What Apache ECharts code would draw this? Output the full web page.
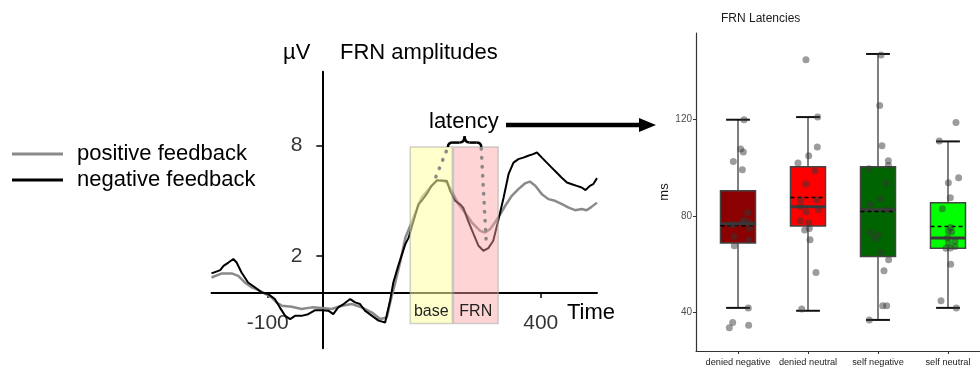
<!DOCTYPE html>
<html>
<head>
<meta charset="utf-8">
<script src="https://cdn.jsdelivr.net/npm/echarts@6/dist/echarts.min.js"></script>
<style>
  html, body { margin: 0; padding: 0; background: #fff; }
  #chart { width: 980px; height: 367px; }
</style>
</head>
<body>
<div id="chart"></div>
<script>
// ---------- FRN amplitudes: [time ms, amplitude µV] ----------
var positiveFeedback = [
  [-203, 0.84], [-184, 1.06], [-166, 1.06], [-154, 0.93], [-142, 0.57], [-129, 0.30],
  [-117, 0.16], [-105, -0.03], [-93, -0.24], [-84, -0.51], [-74, -0.69], [-56, -0.75],
  [-38, -0.87], [-19, -0.78], [-1, -0.82], [17, -0.87], [36, -0.69], [54, -0.60],
  [72, -0.78], [91, -1.06], [106, -1.41], [118, -1.33], [126, -0.30], [133, 0.50],
  [142, 1.60], [152, 3.00], [167, 4.10], [182, 5.18], [200, 5.81], [210, 6.08],
  [219, 6.12], [228, 5.99], [237, 5.54], [249, 4.82], [261, 4.36], [274, 3.82],
  [289, 3.37], [298, 3.28], [307, 3.46], [316, 3.82], [326, 4.28], [335, 4.73],
  [347, 5.27], [359, 5.63], [371, 5.94], [380, 6.04], [390, 5.81], [402, 5.36],
  [414, 5.09], [426, 5.00], [439, 4.82], [451, 4.63], [463, 4.49], [475, 4.55],
  [484, 4.49], [493, 4.67], [503, 4.90]
];
var negativeFeedback = [
  [-203, 1.06], [-193, 1.17], [-187, 1.24], [-181, 1.47], [-172, 1.65], [-163, 1.84],
  [-157, 1.65], [-148, 1.11], [-136, 0.57], [-123, 0.30], [-111, 0.03], [-99, -0.06],
  [-87, -0.33], [-78, -0.78], [-68, -1.24], [-59, -1.42], [-50, -1.24], [-38, -1.24],
  [-26, -1.15], [-13, -0.93], [-1, -0.93], [11, -0.96], [20, -1.15], [29, -0.78],
  [39, -0.60], [51, -0.33], [60, -0.51], [69, -0.60], [78, -0.96], [91, -1.24],
  [103, -1.50], [115, -1.60], [124, -0.42], [130, 0.57], [139, 1.47], [146, 2.11],
  [152, 2.65], [158, 3.00], [167, 3.90], [176, 4.82], [182, 5.00], [191, 5.36],
  [200, 5.81], [210, 6.12], [219, 6.08], [228, 6.08], [234, 5.54], [243, 5.00],
  [252, 4.82], [258, 4.63], [267, 3.91], [277, 3.19], [286, 2.56], [295, 2.29],
  [304, 2.43], [313, 2.83], [322, 3.91], [332, 5.18], [341, 6.44], [350, 7.07],
  [359, 7.26], [368, 7.34], [377, 7.44], [386, 7.53], [393, 7.62], [402, 7.34],
  [411, 7.07], [420, 6.80], [429, 6.53], [438, 6.26], [448, 5.99], [457, 5.90],
  [466, 5.81], [475, 5.72], [482, 5.58], [490, 5.81], [496, 5.90], [503, 6.23]
];
var ampTicks = [2, 8];
var timeTicks = [-100, 400];
// time windows: [start ms, end ms, bottom µV, top µV]
var windowNames = ['base', 'FRN'];
var windowSpans = [[161, 238, -1.65, 7.92], [240, 322, -1.65, 7.92]];
// dotted peak markers
var peakGuide1 = [[208, 6.3], [230, 7.9]];
var peakGuide2 = [[291, 7.83], [300, 2.83]];
// brace over the latency: [from ms, to ms, base µV, tip µV]
var latencyBrace = [[230, 291, 7.92, 8.5]];

// ---------- FRN latencies ----------
var groups = ['denied negative', 'denied neutral', 'self negative', 'self neutral'];
var boxLow  = [41.9, 40.7, 36.9, 41.9];
var boxQ1   = [68.8, 75.9, 63.2, 66.7];
var boxMed  = [76.8, 83.9, 82.6, 70.9];
var boxQ3   = [90.5, 100.5, 100.5, 85.5];
var boxHigh = [120.0, 121.1, 147.3, 111.0];
var boxMean = [76.0, 87.7, 81.9, 75.7];
var msTicks = [40, 80, 120];

var latencies = [
  [120.0, 107.8, 106.6, 102.7, 99.2, 81.5, 78.4, 77.5, 76.5, 76.5, 77.4, 75.0, 71.5, 70.2, 67.7, 41.9, 35.8, 33.7, 34.7],
  [144.9, 121.1, 108.7, 105.0, 102.0, 98.8, 93.3, 86.8, 86.7, 84.0, 81.7, 82.7, 78.1, 77.2, 74.2, 74.9, 70.2, 56.6, 41.4],
  [146.9, 125.9, 109.2, 103.0, 101.0, 99.7, 93.7, 87.2, 84.8, 82.6, 73.2, 72.2, 70.7, 64.9, 61.9, 57.3, 42.8, 42.8, 36.9],
  [118.9, 111.2, 95.9, 93.8, 87.6, 83.0, 75.3, 73.8, 73.4, 69.6, 71.0, 68.8, 66.7, 66.8, 67.4, 60.0, 44.9, 41.9]
];
var jitter = [
  [0.086, 0.038, 0.076, -0.067, 0.062, 0.138, 0.090, 0.062, -0.105, -0.052, 0.162, 0.162, -0.057, 0.157, -0.052, 0.148, -0.076, -0.124, 0.152],
  [-0.029, 0.138, 0.133, 0.010, -0.143, 0.100, -0.029, -0.110, 0.133, -0.105, -0.029, 0.152, -0.110, 0.010, -0.048, 0.019, 0.029, 0.114, -0.090],
  [0.043, 0.024, 0.057, 0.148, 0.148, -0.129, 0.114, 0.038, -0.110, 0.129, -0.114, 0.000, -0.048, 0.043, 0.152, 0.086, 0.067, 0.124, -0.124],
  [0.114, -0.124, 0.152, 0.005, 0.033, -0.081, 0.038, 0.005, 0.052, 0.100, -0.005, 0.005, -0.029, 0.033, 0.100, 0.038, -0.100, 0.119]
];
var boxColors = ['#8b0000', '#ff0000', '#006400', '#00ff00'];

var sans = '"Liberation Sans", Arial, sans-serif';

var boxData = groups.map(function (g, i) {
  return [i, boxLow[i], boxQ1[i], boxMed[i], boxQ3[i], boxHigh[i], boxMean[i]];
});
var pointData = [];
latencies.forEach(function (vals, i) {
  vals.forEach(function (v, k) { pointData.push([i + jitter[i][k], v]); });
});

function renderBox(params, api) {
  var i = api.value(0);
  var x = api.coord([i, api.value(1)])[0];
  var yLow = api.coord([i, api.value(1)])[1];
  var yQ1 = api.coord([i, api.value(2)])[1];
  var yMed = api.coord([i, api.value(3)])[1];
  var yQ3 = api.coord([i, api.value(4)])[1];
  var yHigh = api.coord([i, api.value(5)])[1];
  var yMean = api.coord([i, api.value(6)])[1];
  var L = api.coord([i - 0.25, api.value(1)])[0];
  var R = api.coord([i + 0.25, api.value(1)])[0];
  var cl = api.coord([i - 0.17, api.value(1)])[0];
  var cr = api.coord([i + 0.17, api.value(1)])[0];
  return {
    type: 'group',
    children: [
      { type: 'line', shape: { x1: x, y1: yHigh, x2: x, y2: yLow }, style: { stroke: '#555', lineWidth: 1.5 } },
      { type: 'line', shape: { x1: cl, y1: yHigh, x2: cr, y2: yHigh }, style: { stroke: '#111', lineWidth: 2 } },
      { type: 'line', shape: { x1: cl, y1: yLow, x2: cr, y2: yLow }, style: { stroke: '#111', lineWidth: 2 } },
      { type: 'rect', shape: { x: L, y: yQ3, width: R - L, height: yQ1 - yQ3 },
        style: { fill: boxColors[params.dataIndex], stroke: '#444', lineWidth: 1.5 } },
      { type: 'line', shape: { x1: L, y1: yMed, x2: R, y2: yMed }, style: { stroke: '#3a3a3a', lineWidth: 3 } },
      { type: 'line', shape: { x1: L, y1: yMean, x2: R, y2: yMean }, style: { stroke: '#000', lineWidth: 1.5, lineDash: [4, 3] } }
    ]
  };
}

function renderWindow(params, api) {
  var p0 = api.coord([api.value(0), api.value(3)]);
  var p1 = api.coord([api.value(1), api.value(2)]);
  var fills = ['rgba(255,255,160,0.55)', 'rgba(255,160,160,0.45)'];
  return {
    type: 'group',
    children: [
      { type: 'rect', shape: { x: p0[0], y: p0[1], width: p1[0] - p0[0], height: p1[1] - p0[1] },
        style: { fill: fills[params.dataIndex], stroke: 'rgba(170,170,170,0.55)', lineWidth: 1.5 } },
      { type: 'text', style: { text: windowNames[params.dataIndex], x: (p0[0] + p1[0]) / 2, y: p1[1] - 4,
        align: 'center', verticalAlign: 'bottom', fontSize: 16, fontFamily: sans, fill: '#222' } }
    ]
  };
}

function renderBrace(params, api) {
  var l = api.coord([api.value(0), api.value(2)]);
  var r = api.coord([api.value(1), api.value(2)]);
  var yt = api.coord([api.value(0), api.value(3)])[1];
  var yb = l[1], ys = (yb + yt) / 2 + 1, xm = (l[0] + r[0]) / 2;
  var st = { stroke: '#000', lineWidth: 2.5, fill: null };
  return {
    type: 'group',
    children: [
      { type: 'bezierCurve', shape: { x1: l[0], y1: yb, cpx1: l[0], cpy1: ys, x2: l[0] + 5, y2: ys }, style: st },
      { type: 'line', shape: { x1: l[0] + 5, y1: ys, x2: xm - 5, y2: ys }, style: st },
      { type: 'bezierCurve', shape: { x1: xm - 5, y1: ys, cpx1: xm, cpy1: ys, x2: xm, y2: yt }, style: st },
      { type: 'bezierCurve', shape: { x1: xm, y1: yt, cpx1: xm, cpy1: ys, x2: xm + 5, y2: ys }, style: st },
      { type: 'line', shape: { x1: xm + 5, y1: ys, x2: r[0] - 5, y2: ys }, style: st },
      { type: 'bezierCurve', shape: { x1: r[0] - 5, y1: ys, cpx1: r[0], cpy1: ys, x2: r[0], y2: yb }, style: st }
    ]
  };
}

var myChart = echarts.init(document.getElementById('chart'));
myChart.setOption({
  animation: false,
  backgroundColor: '#fff',
  title: [
    { text: 'FRN amplitudes', left: 340, top: 42, padding: 0,
      textStyle: { fontSize: 22, fontWeight: 'normal', color: '#000', fontFamily: sans } },
    { text: 'FRN Latencies', left: 721, top: 13, padding: 0,
      textStyle: { fontSize: 12, fontWeight: 'normal', color: '#1a1a1a', fontFamily: sans } }
  ],
  legend: {
    data: ['positive feedback', 'negative feedback'],
    orient: 'vertical',
    left: 12,
    top: 143,
    padding: 0,
    itemGap: 4,
    itemWidth: 51,
    itemHeight: 3,
    icon: 'rect',
    textStyle: { fontSize: 22, color: '#000', fontFamily: sans, padding: [0, 0, 0, 9] }
  },
  grid: [
    { left: 211.5, top: 71.7, width: 385.5, height: 276.6, outerBoundsMode: 'none' },
    { left: 696, top: 33, width: 294, height: 318, outerBoundsMode: 'none' }
  ],
  xAxis: [
    {
      gridIndex: 0, type: 'value', min: -203, max: 503,
      splitLine: { show: false },
      axisLine: { onZero: true, lineStyle: { color: '#000', width: 2 } },
      axisTick: { customValues: timeTicks, length: 5, lineStyle: { color: '#000', width: 1.5 } },
      axisLabel: { show: false }
    },
    {
      gridIndex: 1, type: 'value', min: -0.6, max: 3.6,
      splitLine: { show: false },
      axisLine: { onZero: false, lineStyle: { color: '#333', width: 1.2 } },
      axisTick: { customValues: [0, 1, 2, 3], length: 3, lineStyle: { color: '#333' } },
      axisLabel: {
        customValues: [0, 1, 2, 3], margin: 7, fontSize: 9.2, color: '#1a1a1a', fontFamily: sans,
        hideOverlap: false,
        formatter: function (v) { return groups[Math.round(v)]; }
      }
    }
  ],
  yAxis: [
    {
      gridIndex: 0, type: 'value', min: -3, max: 12,
      splitLine: { show: false },
      axisLine: { onZero: true, lineStyle: { color: '#000', width: 2 } },
      axisTick: { customValues: ampTicks, length: 6, lineStyle: { color: '#000', width: 1.5 } },
      axisLabel: { show: false }
    },
    {
      gridIndex: 1, type: 'value', min: 24, max: 156,
      name: 'ms', nameLocation: 'middle', nameGap: 24,
      nameTextStyle: { fontSize: 13, color: '#1a1a1a', fontFamily: sans },
      splitLine: { show: false },
      axisLine: { onZero: false, lineStyle: { color: '#333', width: 1.2 } },
      axisTick: { customValues: msTicks, length: 3, lineStyle: { color: '#333' } },
      axisLabel: { customValues: msTicks, margin: 4, fontSize: 10, color: '#4d4d4d', fontFamily: sans }
    }
  ],
  series: [
    {
      name: 'positive feedback', type: 'line', xAxisIndex: 0, yAxisIndex: 0,
      data: positiveFeedback, showSymbol: false, symbol: 'none', z: 2,
      color: '#8a8a8a', lineStyle: { color: '#8a8a8a', width: 2.5 }
    },
    {
      name: 'negative feedback', type: 'line', xAxisIndex: 0, yAxisIndex: 0,
      data: negativeFeedback, showSymbol: false, symbol: 'none', z: 3,
      color: '#000', lineStyle: { color: '#000', width: 2 }
    },
    {
      // tick labels that sit on the crossing axes
      name: 'timeLabels', type: 'scatter', xAxisIndex: 0, yAxisIndex: 0, silent: true,
      data: timeTicks.map(function (t) { return [t, 0]; }), symbolSize: 0,
      label: { show: true, position: 'bottom', distance: 20, fontSize: 21, color: '#000', fontFamily: sans,
        formatter: function (p) { return p.value[0]; } }
    },
    {
      name: 'ampLabels', type: 'scatter', xAxisIndex: 0, yAxisIndex: 0, silent: true,
      data: ampTicks.map(function (a) { return [0, a]; }), symbolSize: 0,
      label: { show: true, position: 'left', distance: 20, fontSize: 21, color: '#000', fontFamily: sans,
        formatter: function (p) { return p.value[1]; } }
    },
    {
      name: 'windows', type: 'custom', xAxisIndex: 0, yAxisIndex: 0, z: 5,
      data: windowSpans, renderItem: renderWindow, silent: true
    },
    {
      name: 'guide1', type: 'line', xAxisIndex: 0, yAxisIndex: 0, z: 6,
      data: peakGuide1, symbol: 'none', silent: true,
      lineStyle: { color: '#888', width: 3.5, type: [0.5, 8.5], cap: 'round' }
    },
    {
      name: 'guide2', type: 'line', xAxisIndex: 0, yAxisIndex: 0, z: 6,
      data: peakGuide2, symbol: 'none', silent: true,
      lineStyle: { color: '#888', width: 3.5, type: [0.5, 8.5], cap: 'round' }
    },
    {
      name: 'brace', type: 'custom', xAxisIndex: 0, yAxisIndex: 0, z: 6,
      data: latencyBrace, renderItem: renderBrace, silent: true
    },
    {
      name: 'boxes', type: 'custom', xAxisIndex: 1, yAxisIndex: 1, z: 2,
      data: boxData, renderItem: renderBox, silent: true
    },
    {
      name: 'latencies', type: 'scatter', xAxisIndex: 1, yAxisIndex: 1, z: 4,
      data: pointData, symbolSize: 7,
      itemStyle: { color: 'rgba(55,55,55,0.62)' }
    }
  ],
  graphic: [
    { type: 'text', left: 283, top: 42, style: { text: 'µV', fontSize: 22, fontFamily: sans, fill: '#000' } },
    { type: 'text', left: 567, top: 302, style: { text: 'Time', fontSize: 22, fontFamily: sans, fill: '#000' } },
    { type: 'text', left: 429, top: 111, style: { text: 'latency', fontSize: 22, fontFamily: sans, fill: '#000' } },
    { type: 'line', shape: { x1: 506, y1: 125, x2: 642, y2: 125 }, style: { stroke: '#000', lineWidth: 4.5 } },
    { type: 'polygon', shape: { points: [[639, 118], [656, 125], [639, 132]] }, style: { fill: '#000' } }
  ]
});
</script>
</body>
</html>
